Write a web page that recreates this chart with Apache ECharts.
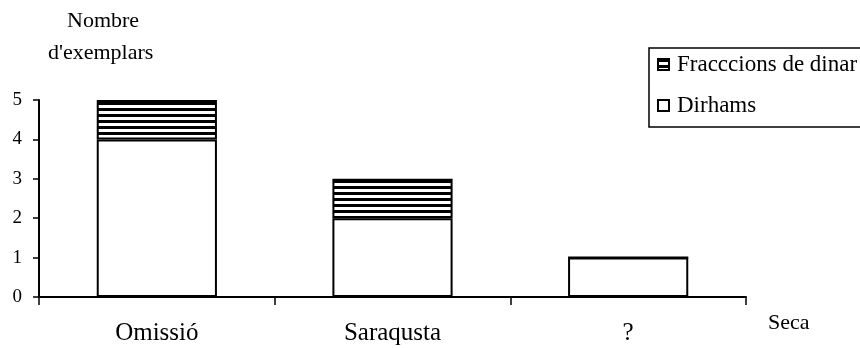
<!DOCTYPE html>
<html>
<head>
<meta charset="utf-8">
<script src="https://cdn.jsdelivr.net/npm/echarts@6/dist/echarts.min.js"></script>
<style>html,body{margin:0;padding:0;background:#fff}#c{width:860px;height:348px}</style>
</head>
<body>
<div id="c"></div>
<script>
const categories = ['Omissió', 'Saraqusta', '?'];
const dirhams = [4, 2, 1];
const fraccions = [1, 1, 0];
const yTicks = [0, 1, 2, 3, 4, 5];

const pc = document.createElement('canvas');
pc.width = 6; pc.height = 6;
const ctx = pc.getContext('2d');
ctx.fillStyle = '#fff'; ctx.fillRect(0, 0, 6, 6);
ctx.fillStyle = '#000'; ctx.fillRect(0, 0, 6, 3);

const font = '"Liberation Serif", "Times New Roman", serif';
const chart = echarts.init(document.getElementById('c'));
chart.setOption({
  animation: false,
  backgroundColor: '#fff',
  textStyle: { fontFamily: font, color: '#000' },
  grid: { left: 39, right: 114, top: 100, bottom: 51, containLabel: false },
  legend: {
    orient: 'vertical',
    left: 649, top: 48,
    padding: [5, 8, 10, 8],
    itemGap: 18,
    itemWidth: 11, itemHeight: 11,
    borderColor: '#000', borderWidth: 1.5,
    textStyle: { fontFamily: font, fontSize: 23, color: '#000', padding: [0, 0, 0, 3] },
    data: ['Fracccions de dinar', 'Dirhams'],
    icon: 'rect'
  },
  xAxis: {
    type: 'category',
    data: categories,
    axisLine: { lineStyle: { color: '#000', width: 2 } },
    axisTick: { show: true, length: 8, lineStyle: { color: '#000', width: 1.5 } },
    axisLabel: { fontFamily: font, fontSize: 25, color: '#000', margin: 24 },
    name: 'Seca',
    nameLocation: 'end',
    nameGap: 22,
    nameTextStyle: { fontFamily: font, fontSize: 22, color: '#000', verticalAlign: 'top', padding: [15, 0, 0, 0] }
  },
  yAxis: {
    type: 'value',
    min: 0, max: 5, interval: 1,
    splitLine: { show: false },
    axisLine: { show: true, lineStyle: { color: '#000', width: 2 } },
    axisTick: { show: true, length: 6, lineStyle: { color: '#000', width: 1.5 } },
    axisLabel: { fontFamily: font, fontSize: 19, color: '#000', margin: 17,
      formatter: v => yTicks.includes(v) ? String(v) : '' }
  },
  graphic: [
    { type: 'text', left: 67, top: 10, style: { text: 'Nombre', font: '22px ' + font, fill: '#000' } },
    { type: 'text', left: 48, top: 42, style: { text: "d'exemplars", font: '22px ' + font, fill: '#000' } }
  ],
  series: [
    {
      name: 'Dirhams', type: 'bar', stack: 's', barWidth: '51%',
      data: dirhams,
      itemStyle: { color: '#fff', borderColor: '#000', borderWidth: 2 }
    },
    {
      name: 'Fracccions de dinar', type: 'bar', stack: 's', barWidth: '51%',
      data: fraccions,
      itemStyle: { color: { image: pc, repeat: 'repeat' }, borderColor: '#000', borderWidth: 2 }
    }
  ]
});
</script>
</body>
</html>
